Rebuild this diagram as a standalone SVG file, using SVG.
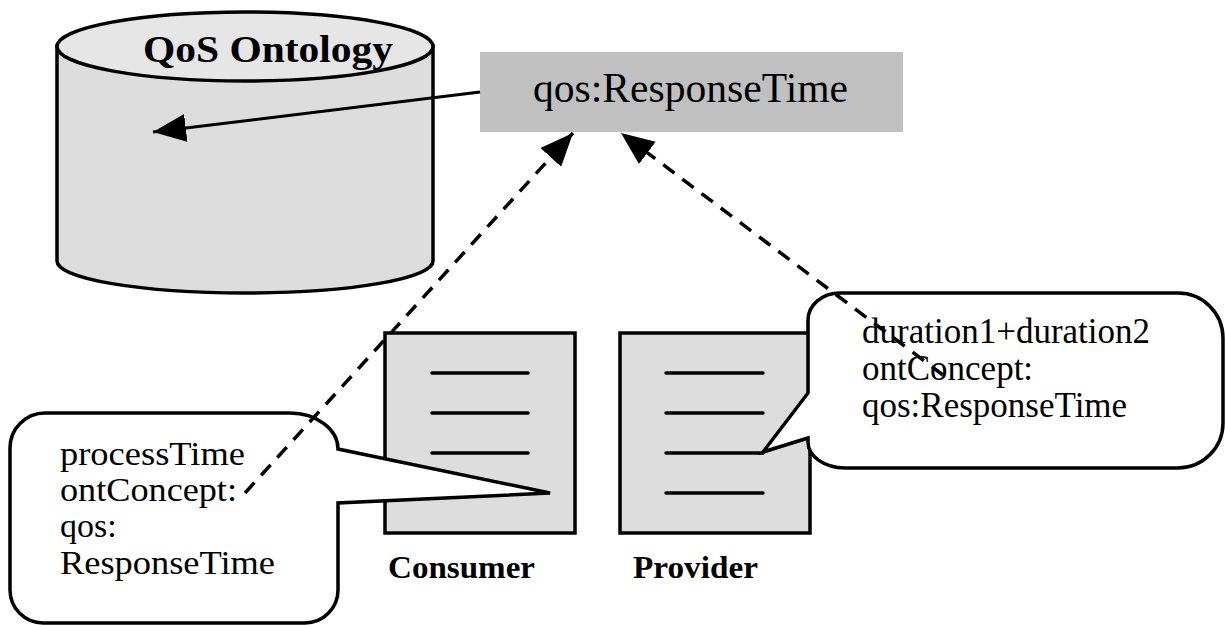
<svg xmlns="http://www.w3.org/2000/svg" width="1225" height="625" viewBox="0 0 1225 625">
<style>
.ln{stroke:#000;stroke-width:3.5;fill:none}
.doc{fill:#dddddd;stroke:#000;stroke-width:3.5}
.dl{stroke:#000;stroke-width:3.5;stroke-linecap:round}
.call{fill:#fff;stroke:#000;stroke-width:3.5;stroke-linejoin:miter}
.t{font-family:"Liberation Serif","Times New Roman",serif;fill:#000}
.b{font-weight:bold}
.dash{stroke:#000;stroke-width:3.5;stroke-dasharray:14 10;fill:none}
.solid{stroke:#000;stroke-width:3;fill:none}
</style>
<defs>
<marker id="ah" viewBox="0 0 33 28" refX="33" refY="14" markerWidth="33" markerHeight="28" markerUnits="userSpaceOnUse" orient="auto">
<path d="M0,0 L33,14 L0,28 Z" fill="#000"/>
</marker>
</defs>
<rect width="1225" height="625" fill="#fff"/>
<g id="ontology">
<path d="M57,46 L57,261 A188,32 0 0 0 433,261 L433,46 Z" fill="#dddddd" stroke="#000" stroke-width="3.5"/>
<ellipse cx="245" cy="46.5" rx="188" ry="34.5" fill="#e6e6e6" stroke="#000" stroke-width="3.5"/>
<text class="t b" x="143" y="62" font-size="37" textLength="250" lengthAdjust="spacingAndGlyphs">QoS Ontology</text>
</g>
<g id="responsetime">
<rect x="480" y="52" width="423" height="80" fill="#c0c0c0"/>
<text class="t" x="533" y="102" font-size="43" textLength="315" lengthAdjust="spacingAndGlyphs">qos:ResponseTime</text>
</g>
<g id="consumer">
<rect class="doc" x="385" y="333" width="190" height="200"/>
<line class="dl" x1="432" y1="373" x2="528" y2="373"/>
<line class="dl" x1="432" y1="413" x2="528" y2="413"/>
<line class="dl" x1="432" y1="453" x2="528" y2="453"/>
<line class="dl" x1="432" y1="493" x2="528" y2="493"/>
<text class="t b" x="388" y="578" font-size="31" textLength="147" lengthAdjust="spacingAndGlyphs">Consumer</text>
</g>
<g id="provider">
<rect class="doc" x="620" y="333" width="190" height="200"/>
<line class="dl" x1="666" y1="373" x2="763" y2="373"/>
<line class="dl" x1="666" y1="413" x2="763" y2="413"/>
<line class="dl" x1="666" y1="453" x2="763" y2="453"/>
<line class="dl" x1="666" y1="493" x2="763" y2="493"/>
<text class="t b" x="633" y="578" font-size="31" textLength="125" lengthAdjust="spacingAndGlyphs">Provider</text>
</g>
<g id="consumer-note">
<path class="call" d="M45,413 L290,413 A48,36 0 0 1 338,449 L550,493 L338,503 L338,590 A33,33 0 0 1 305,623 L43,623 A33,33 0 0 1 10,590 L10,448 A35,35 0 0 1 45,413 Z"/>
<text class="t" font-size="34">
<tspan x="60" y="465" textLength="185" lengthAdjust="spacingAndGlyphs">processTime</tspan>
<tspan x="60" y="501" textLength="177" lengthAdjust="spacingAndGlyphs">ontConcept:</tspan>
<tspan x="60" y="537">qos:</tspan>
<tspan x="60" y="574" textLength="215" lengthAdjust="spacingAndGlyphs">ResponseTime</tspan>
</text>
</g>
<g id="provider-note">
<path class="call" d="M840,293 L1178,293 A45,45 0 0 1 1223,338 L1223,423 A45,45 0 0 1 1178,468 L845,468 A37,26 0 0 1 808,442 L808,438 L763,452 L808,393 L808,320 A32,27 0 0 1 840,293 Z"/>
<text class="t" font-size="35">
<tspan x="862" y="343">duration1+duration2</tspan>
<tspan x="862" y="380">ontConcept:</tspan>
<tspan x="862" y="417">qos:ResponseTime</tspan>
</text>
</g>
<g id="connectors">
<line class="solid" x1="480" y1="92" x2="153" y2="132" marker-end="url(#ah)"/>
<line class="dash" x1="245" y1="493" x2="573" y2="133" marker-end="url(#ah)"/>
<line class="dash" x1="943" y1="375" x2="621" y2="133" marker-end="url(#ah)"/>
</g>
</svg>
